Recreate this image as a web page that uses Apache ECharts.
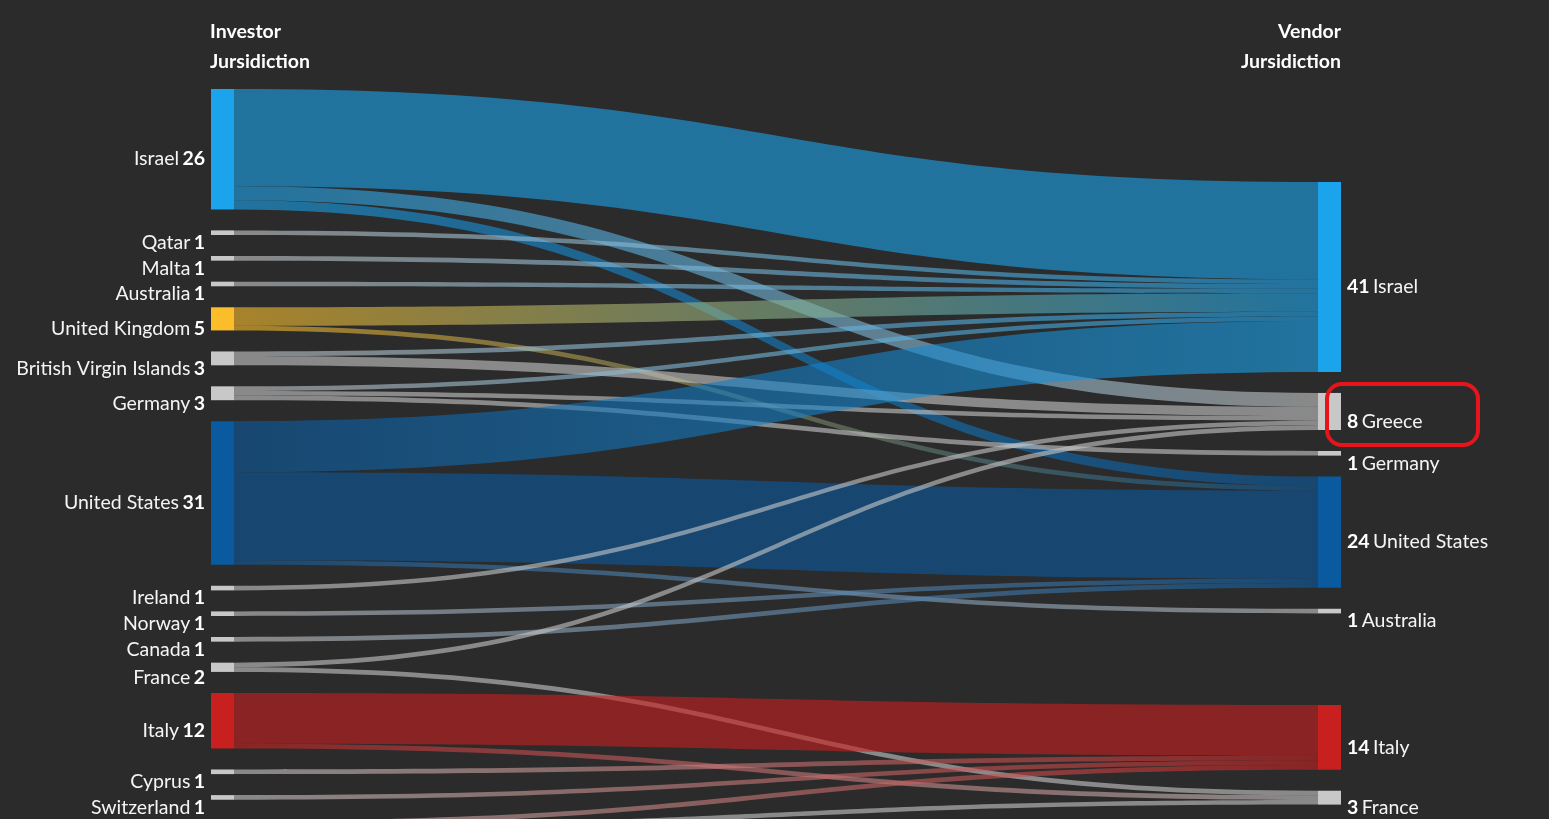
<!DOCTYPE html>
<html>
<head>
<meta charset="utf-8">
<script src="https://cdn.jsdelivr.net/npm/echarts@6/dist/echarts.min.js"></script>
<style>
  html, body { margin: 0; padding: 0; background: #2b2b2b; }
  #chart { width: 1549px; height: 819px; }
</style>
</head>
<body>
<div id="chart"></div>
<script>
// ---- Data ----
const investors = ['Israel', 'Qatar', 'Malta', 'Australia', 'United Kingdom', 'British Virgin Islands',
  'Germany', 'United States', 'Ireland', 'Norway', 'Canada', 'France', 'Italy', 'Cyprus', 'Switzerland', 'Other'];
const vendors = ['Israel', 'Greece', 'Germany', 'United States', 'Australia', 'Italy', 'France'];
// [investor, vendor, deals]
const flows = [
  ['Israel', 'Israel', 21], ['Israel', 'Greece', 3], ['Israel', 'United States', 2],
  ['Qatar', 'Israel', 1], ['Malta', 'Israel', 1], ['Australia', 'Israel', 1],
  ['United Kingdom', 'Israel', 4], ['United Kingdom', 'United States', 1],
  ['British Virgin Islands', 'Israel', 1], ['British Virgin Islands', 'Greece', 2],
  ['Germany', 'Israel', 1], ['Germany', 'Greece', 1], ['Germany', 'Germany', 1],
  ['United States', 'Israel', 11], ['United States', 'United States', 19], ['United States', 'Australia', 1],
  ['Ireland', 'Greece', 1], ['Norway', 'United States', 1], ['Canada', 'United States', 1],
  ['France', 'Greece', 1], ['France', 'France', 1],
  ['Italy', 'Italy', 11], ['Italy', 'France', 1],
  ['Cyprus', 'Italy', 1], ['Switzerland', 'Italy', 1],
  ['Other', 'Italy', 1], ['Other', 'France', 1]
];
const headers = { left: 'Investor\nJursidiction', right: 'Vendor\nJursidiction' };

// ---- Styles / layout settings ----
const countryColors = {
  'Israel': '#1ba3ec', 'United States': '#0a5aa0', 'United Kingdom': '#fbbd2a', 'Italy': '#c81f1f'
};
const defaultColor = '#c8c8c8';
const FONT = 'Lato';
const FS = 19.5;
const CHART_H = 819;
const LAYOUT = { left: 211, right: 208, top: 89, bottom: -11, nodeWidth: 23, nodeGap: 21 };

const sumFor = (name, idx) => flows.filter(f => f[idx] === name).reduce((a, f) => a + f[2], 0);
const investorTotals = investors.map(n => sumFor(n, 0));
const vendorTotals = vendors.map(n => sumFor(n, 1));

// Vendor column: order-preserving relaxation (each vendor node centred on the
// value-weighted centre of its investor nodes, pushed down when it would overlap).
const H = CHART_H - LAYOUT.top - LAYOUT.bottom;
const gap = LAYOUT.nodeGap;
const total = arr => arr.reduce((a, b) => a + b, 0);
const ky = Math.min(
  (H - (investors.length - 1) * gap) / total(investorTotals),
  (H - (vendors.length - 1) * gap) / total(vendorTotals)
);
const investorCenter = {};
let acc = 0;
investors.forEach((n, i) => {
  const dy = investorTotals[i] * ky;
  investorCenter[n] = acc + dy / 2;
  acc += dy + gap;
});
const vendorLocalY = {};
let prevBottom = -Infinity;
vendors.forEach((n, i) => {
  const dy = vendorTotals[i] * ky;
  const inc = flows.filter(f => f[1] === n);
  const c = inc.reduce((a, f) => a + investorCenter[f[0]] * f[2], 0) / vendorTotals[i];
  const y = Math.max(c - dy / 2, prevBottom);
  vendorLocalY[n] = y / H;
  prevBottom = y + dy + gap;
});

const nodes = [];
investors.forEach((n, i) => {
  nodes.push({
    name: 'L_' + n,
    depth: 0,
    itemStyle: { color: countryColors[n] || defaultColor },
    label: {
      position: 'left', distance: 6, offset: [0, 10],
      formatter: '{n|' + n + '} {b|' + investorTotals[i] + '}'
    }
  });
});
vendors.forEach((n, i) => {
  nodes.push({
    name: 'R_' + n,
    depth: 1,
    localY: vendorLocalY[n],
    itemStyle: { color: countryColors[n] || defaultColor },
    label: {
      position: 'right', distance: 6, offset: [0, 10],
      formatter: '{b|' + vendorTotals[i] + '} {n|' + n + '}'
    }
  });
});
const links = flows.map(f => ({ source: 'L_' + f[0], target: 'R_' + f[1], value: f[2] }));

const chart = echarts.init(document.getElementById('chart'), null, { renderer: 'canvas' });
chart.setOption({
  backgroundColor: '#2b2b2b',
  animation: false,
  series: [{
    type: 'sankey',
    left: LAYOUT.left, right: LAYOUT.right, top: LAYOUT.top, bottom: LAYOUT.bottom,
    nodeWidth: LAYOUT.nodeWidth,
    nodeGap: LAYOUT.nodeGap,
    layoutIterations: 0,
    draggable: false,
    emphasis: { disabled: true },
    data: nodes,
    links: links,
    itemStyle: { borderWidth: 0 },
    lineStyle: { color: 'gradient', opacity: 0.6, curveness: 0.5 },
    label: {
      show: true,
      color: '#ffffff',
      rich: {
        n: { color: '#f4f4f4', fontSize: FS, fontFamily: FONT },
        b: { color: '#ffffff', fontSize: FS, fontFamily: FONT, fontWeight: 'bold' }
      }
    }
  }],
  graphic: [
    { type: 'text', x: 210, y: 17, style: { text: headers.left, fill: '#ffffff', font: 'bold ' + FS + 'px ' + FONT, lineHeight: 30, align: 'left', verticalAlign: 'top' } },
    { type: 'text', x: 1341, y: 17, style: { text: headers.right, fill: '#ffffff', font: 'bold ' + FS + 'px ' + FONT, lineHeight: 30, align: 'right', verticalAlign: 'top' } },
    { type: 'rect', shape: { x: 1327, y: 384, width: 151, height: 61, r: 15 }, style: { fill: 'none', stroke: '#e8141b', lineWidth: 4 }, z: 100 }
  ]
});
</script>
</body>
</html>
